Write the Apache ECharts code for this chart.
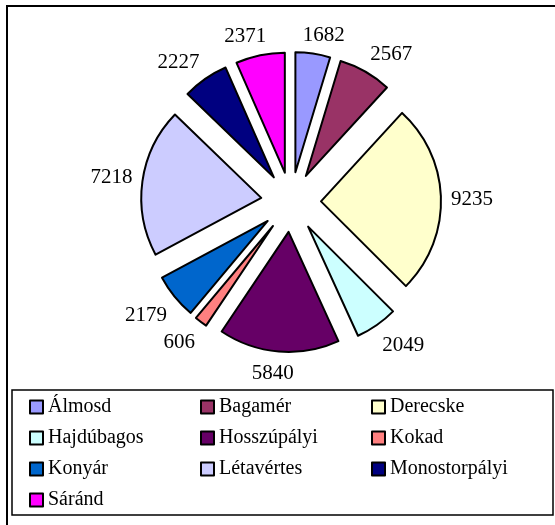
<!DOCTYPE html>
<html>
<head>
<meta charset="utf-8">
<script src="https://cdn.jsdelivr.net/npm/echarts@6/dist/echarts.min.js"></script>
<style>
  html, body { margin: 0; padding: 0; background: #fff; }
  #main { width: 555px; height: 525px; }
</style>
</head>
<body>
<div id="main"></div>
<script>
// adatok
var telepulesek = ['Álmosd', 'Bagamér', 'Derecske', 'Hajdúbagos', 'Hosszúpályi', 'Kokad', 'Konyár', 'Létavértes', 'Monostorpályi', 'Sáránd']
var ertekek = [1682, 2567, 9235, 2049, 5840, 606, 2179, 7218, 2227, 2371]
var szinek = ['#9999ff', '#993366', '#ffffcc', '#ccffff', '#660066', '#ff8080', '#0066cc', '#ccccff', '#000080', '#ff00ff']

var oszlop1 = ['Álmosd', 'Hajdúbagos', 'Konyár', 'Sáránd']
var oszlop2 = ['Bagamér', 'Hosszúpályi', 'Létavértes']
var oszlop3 = ['Derecske', 'Kokad', 'Monostorpályi']

var font = 'Liberation Serif, Times New Roman, serif'
var kozep = [291, 202]
var sugar = 120
var kiemeles = 30

var chart = echarts.init(document.getElementById('main'))

// szeletek középszöge (12 órától, óramutató szerint)
var osszeg = ertekek.reduce(function (a, b) { return a + b }, 0)
var kozepSzog = []
var kum = 0
ertekek.forEach(function (v) {
    kozepSzog.push((kum + v / 2) / osszeg * Math.PI * 2)
    kum += v
})

function vag(t) {
    return Math.max(-1, Math.min(1, t * 3))
}

function legenda(adat, bal) {
    return {
        data: adat,
        orient: 'vertical',
        left: bal,
        top: 397,
        padding: 0,
        itemWidth: 13,
        itemHeight: 13,
        itemGap: 11,
        itemTextGap: 6,
        icon: 'rect',
        selectedMode: false,
        itemStyle: { borderColor: '#000', borderWidth: 2 },
        textStyle: { fontFamily: font, fontSize: 20, color: '#000', lineHeight: 20 },
    }
}

var option = {
    backgroundColor: '#fff',
    animation: false,
    legend: [legenda(oszlop1, 29), legenda(oszlop2, 200), legenda(oszlop3, 371)],
    graphic: [
        {
            type: 'rect',
            shape: { x: 7, y: 6, width: 620, height: 600 },
            style: { fill: 'none', stroke: '#000', lineWidth: 2 },
            silent: true,
        },
        {
            type: 'rect',
            shape: { x: 12, y: 390, width: 541, height: 125 },
            style: { fill: 'none', stroke: '#000', lineWidth: 1.5 },
            silent: true,
        },
    ],
    series: [
        {
            name: 'pie',
            type: 'pie',
            center: kozep,
            radius: sugar,
            startAngle: 90,
            selectedMode: 'multiple',
            selectedOffset: kiemeles,
            label: { show: false },
            labelLine: { show: false },
            itemStyle: { borderColor: '#000', borderWidth: 2 },
            select: { itemStyle: { borderColor: '#000', borderWidth: 2 } },
            emphasis: { disabled: true },
            data: telepulesek.map(function (n, i) {
                return { name: n, value: ertekek[i], selected: true, itemStyle: { color: szinek[i] } }
            }),
        },
        {
            // csak a feliratok, a szelet mellé igazítva
            name: 'cimkek',
            type: 'pie',
            center: kozep,
            radius: [0, 340],
            startAngle: 90,
            silent: true,
            legendHoverLink: false,
            itemStyle: { color: 'transparent', borderWidth: 0 },
            label: {
                show: true,
                position: 'inside',
                formatter: '{c}',
                color: '#000',
                fontFamily: font,
                fontSize: 21,
            },
            labelLine: { show: false },
            labelLayout: function (params) {
                var a = kozepSzog[params.dataIndex]
                var s = Math.sin(a), c = Math.cos(a)
                var w = params.labelRect.width, h = params.labelRect.height
                var d = sugar + kiemeles + 10
                return {
                    x: kozep[0] + d * s + vag(s) * w / 2,
                    y: kozep[1] - d * c - vag(c) * h / 2 + 2,
                    align: 'center',
                    verticalAlign: 'middle',
                }
            },
            emphasis: { disabled: true },
            data: telepulesek.map(function (n, i) {
                return { name: n, value: ertekek[i] }
            }),
        },
    ],
}
chart.setOption(option)
</script>
</body>
</html>
